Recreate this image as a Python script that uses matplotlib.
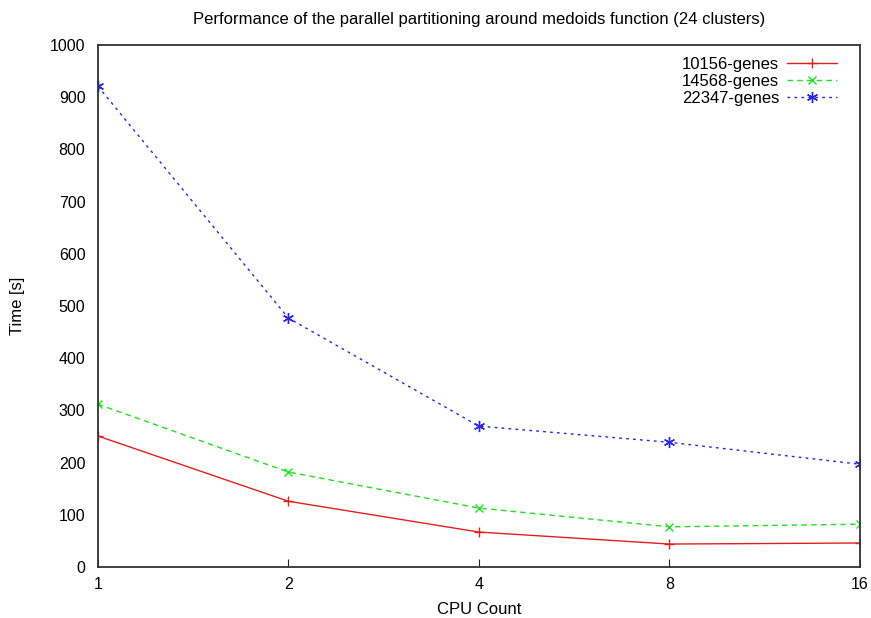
import matplotlib
matplotlib.use("Agg")
import matplotlib.pyplot as plt

cpu_counts = [1, 2, 4, 8, 16]
genes_10156 = [251, 126, 67, 44, 46]
genes_14568 = [312, 182, 113, 77, 82]
genes_22347 = [921, 477, 270, 239, 197]

plt.rcParams["font.family"] = ["Liberation Sans", "DejaVu Sans"]

fig = plt.figure(figsize=(8.71, 6.18), dpi=100)
ax = fig.add_axes([0.1125, 0.0825, 0.8745, 0.8445])

ax.plot(cpu_counts, genes_10156, color="#e0201f", lw=1, marker="+", ms=7,
        label="10156-genes")
ax.plot(cpu_counts, genes_14568, color="#22dd22", lw=1, ls=(0, (4, 3)), marker="x", ms=6,
        label="14568-genes")
ax.plot(cpu_counts, genes_22347, color="#2828d8", lw=1, ls=(0, (2, 3)), marker=(6, 2, 0), ms=8,
        label="22347-genes")

ax.set_xscale("log", base=2)
ax.set_xticks(cpu_counts)
ax.set_xticklabels([str(c) for c in cpu_counts])
ax.minorticks_off()
ax.set_xlim(1, 16)
ax.set_ylim(0, 1000)
ax.set_yticks(range(0, 1001, 100))
ax.tick_params(axis="x", direction="in", length=6, labelsize=11.5, pad=7, color="#222222")
ax.tick_params(axis="y", length=0, labelsize=11.5, pad=9)
for s in ax.spines.values():
    s.set_color("#333333")
    s.set_linewidth(1.3)

ax.set_xlabel("CPU Count", fontsize=12, va="center")
ax.xaxis.set_label_coords(0.5, -0.082)
ax.set_ylabel("Time [s]", fontsize=12, va="center")
ax.yaxis.set_label_coords(-0.106, 0.5)
ax.set_title("Performance of the parallel partitioning around medoids function (24 clusters)",
             fontsize=12, pad=15)

ax.legend(loc="upper right", frameon=False, markerfirst=False, fontsize=12,
          handlelength=3.0, handletextpad=0.45, labelspacing=0.12,
          borderaxespad=0.3, bbox_to_anchor=(0.985, 1.0))

fig.savefig("out.png", dpi=100)
